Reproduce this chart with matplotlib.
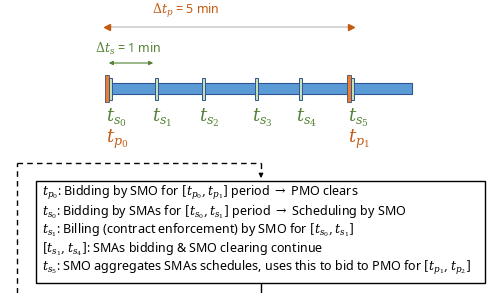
import matplotlib.pyplot as plt
from matplotlib.patches import Rectangle

plt.rcParams['mathtext.fontset'] = 'dejavuserif'
plt.rcParams['font.family'] = ['Noto Sans', 'DejaVu Sans']

GREEN = '#548235'
ORANGE = '#C55A11'

# tick positions along the timeline (pixels)
ticks_x = [110, 156, 203, 256, 300, 352]
tick_labels = [r'$t_{s_0}$', r'$t_{s_1}$', r'$t_{s_2}$', r'$t_{s_3}$', r'$t_{s_4}$', r'$t_{s_5}$']
p_ticks_x = [107, 349]
p_labels = [r'$t_{p_0}$', r'$t_{p_1}$']

lines = [
    r'$t_{p_0}$: Bidding by SMO for $[t_{p_0}, t_{p_1}]$ period $\rightarrow$ PMO clears',
    r'$t_{s_0}$: Bidding by SMAs for $[t_{s_0}, t_{s_1}]$ period $\rightarrow$ Scheduling by SMO',
    r'$t_{s_1}$: Billing (contract enforcement) by SMO for $[t_{s_0}, t_{s_1}]$',
    r'$[t_{s_1}, t_{s_4}]$: SMAs bidding & SMO clearing continue',
    r'$t_{s_5}$: SMO aggregates SMAs schedules, uses this to bid to PMO for $[t_{p_1}, t_{p_2}]$',
]
line_y = [193, 212, 230, 249, 268]

fig = plt.figure(figsize=(4.87, 2.93), dpi=100)
ax = fig.add_axes([0, 0, 1, 1])
ax.set_xlim(0, 487)
ax.set_ylim(293, 0)
ax.axis('off')

# timeline bar
ax.add_patch(Rectangle((110, 83), 302, 11, facecolor='#5B9BD5', edgecolor='#2F5597', lw=0.8, zorder=2))

# orange period markers
for x in p_ticks_x:
    ax.add_patch(Rectangle((x - 2, 75), 4, 27, facecolor='#ED7D31', edgecolor='#44546A', lw=0.6, zorder=3))

# green sub-period markers
for x in ticks_x:
    ax.add_patch(Rectangle((x - 1.5, 78), 3, 22, facecolor='#C5E0B4', edgecolor='#2F5597', lw=0.7, zorder=4))

for x, lab in zip(ticks_x, tick_labels):
    ax.text(x - 4, 118, lab, color=GREEN, fontsize=13, ha='left', va='center')
for x, lab in zip(p_ticks_x, p_labels):
    ax.text(x - 1, 139, lab, color=ORANGE, fontsize=13, ha='left', va='center')

# delta t_p arrow
ax.plot([106, 352], [27, 27], color='#D0CECE', lw=1.2, zorder=1)
ax.plot([107], [27], marker='<', color=ORANGE, ms=4)
ax.plot([351], [27], marker='>', color=ORANGE, ms=4)
ax.text(186, 11, r'$\Delta t_p$ = 5 min', color=ORANGE, fontsize=9, ha='center', va='center')

# delta t_s arrow
ax.annotate('', xy=(156, 63), xytext=(106, 63),
            arrowprops=dict(arrowstyle='<|-|>', color=GREEN, lw=0.8, mutation_scale=6))
ax.text(128, 49, r'$\Delta t_s$ = 1 min', color=GREEN, fontsize=9, ha='center', va='center')

# dashed feedback loop
ax.plot([17, 17], [293, 163], color='black', lw=1, ls=(0, (4, 3)))
ax.plot([17, 261], [163, 163], color='black', lw=1, ls=(0, (4, 3)))
ax.plot([261, 261], [163, 172], color='black', lw=1, ls=(0, (4, 3)))
ax.annotate('', xy=(261, 181), xytext=(261, 172),
            arrowprops=dict(arrowstyle='-|>', color='black', lw=1, mutation_scale=6))
ax.plot([261, 261], [283, 293], color='black', lw=1)

# description box
ax.add_patch(Rectangle((36, 181), 449, 102, facecolor='white', edgecolor='black', lw=1, zorder=2))
for y, s in zip(line_y, lines):
    ax.text(42, y, s, fontsize=9, ha='left', va='center', zorder=3)

fig.savefig('out.png', dpi=100)
